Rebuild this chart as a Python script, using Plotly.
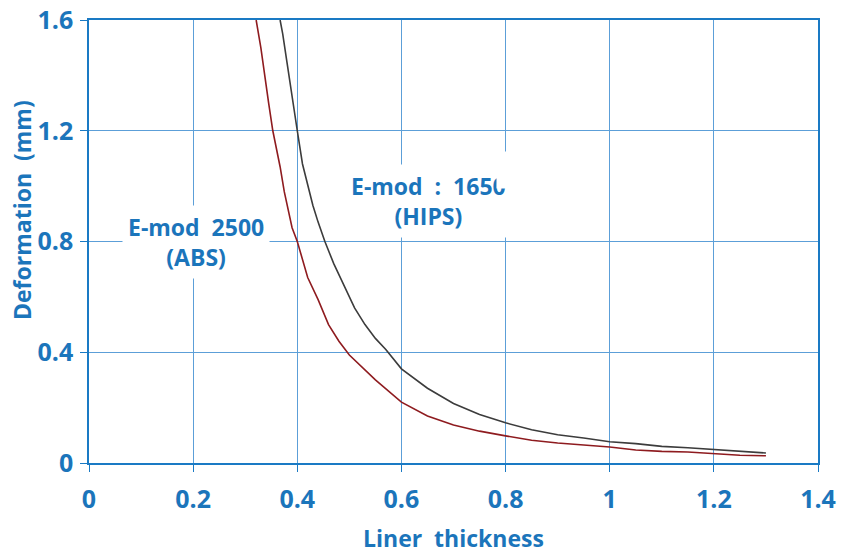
import plotly.graph_objects as go

# Liner thickness vs. deformation for two liner materials
abs_thickness = [0.321, 0.33, 0.345, 0.353, 0.367, 0.375, 0.39, 0.40, 0.42, 0.44,
                 0.46, 0.48, 0.50, 0.55, 0.60, 0.65, 0.70, 0.75, 0.80, 0.85,
                 0.90, 0.95, 1.00, 1.05, 1.10, 1.15, 1.20, 1.25, 1.30]
abs_deformation = [1.60, 1.50, 1.30, 1.20, 1.07, 0.98, 0.85, 0.80, 0.67, 0.59,
                   0.50, 0.44, 0.39, 0.30, 0.22, 0.17, 0.137, 0.115, 0.098, 0.082,
                   0.072, 0.064, 0.058, 0.047, 0.042, 0.040, 0.034, 0.028, 0.026]

hips_thickness = [0.367, 0.372, 0.38, 0.39, 0.40, 0.41, 0.42, 0.43, 0.44, 0.453,
                  0.47, 0.49, 0.51, 0.53, 0.55, 0.57, 0.60, 0.65, 0.70, 0.75,
                  0.80, 0.85, 0.90, 0.95, 1.00, 1.05, 1.10, 1.15, 1.20, 1.25, 1.30]
hips_deformation = [1.60, 1.55, 1.45, 1.32, 1.20, 1.08, 1.00, 0.93, 0.87, 0.80,
                    0.72, 0.64, 0.56, 0.50, 0.45, 0.41, 0.34, 0.27, 0.215, 0.175,
                    0.145, 0.12, 0.102, 0.09, 0.077, 0.07, 0.06, 0.055, 0.048, 0.042, 0.036]

x_ticks = [0, 0.2, 0.4, 0.6, 0.8, 1.0, 1.2, 1.4]
x_tick_text = ["0", "0.2", "0.4", "0.6", "0.8", "1", "1.2", "1.4"]
y_ticks = [0, 0.4, 0.8, 1.2, 1.6]
y_tick_text = ["0", "0.4", "0.8", "1.2", "1.6"]

BLUE = "#1b75bb"
FRAME = "#1a7ac4"
GRID = "#5c9fd8"
FONT = "Open Sans"

W, H = 845, 553
L, R, T, B = 89, 27, 20, 90

fig = go.Figure()
fig.add_trace(go.Scatter(x=abs_thickness, y=abs_deformation, mode="lines",
                         line=dict(color="#8e1b1f", width=1.6), name="ABS"))
fig.add_trace(go.Scatter(x=hips_thickness, y=hips_deformation, mode="lines",
                         line=dict(color="#3c3c3c", width=1.6), name="HIPS"))

axis_common = dict(
    showgrid=True, gridcolor=GRID, gridwidth=1,
    showline=True, linecolor=FRAME, linewidth=1.5, mirror=True,
    ticks="outside", ticklen=7, tickcolor=FRAME, tickwidth=1,
    tickfont=dict(family=FONT, size=25, color=BLUE, weight="bold"),
    zeroline=False, automargin=False,
)

fig.update_xaxes(range=[0, 1.4], tickvals=x_ticks, ticktext=x_tick_text,
                 ticklabelstandoff=6, **axis_common)
fig.update_yaxes(range=[0, 1.6], tickvals=y_ticks, ticktext=y_tick_text,
                 ticklabelstandoff=2, **axis_common)

label_font = dict(family=FONT, size=23, color=BLUE, weight="bold")
plot_w = W - L - R
plot_h = H - T - B
fig.update_layout(
    width=W, height=H,
    margin=dict(l=L, r=R, t=T, b=B),
    plot_bgcolor="white", paper_bgcolor="white",
    showlegend=False,
    annotations=[
        dict(x=0.205, y=0.80, xref="x", yref="y", text="E-mod  2500<br>(ABS)",
             showarrow=False, font=label_font, bgcolor="white",
             xanchor="center", yanchor="middle", borderpad=5),
        dict(x=0.652, y=0.945, xref="x", yref="y", text="E-mod  :  1650<br>(HIPS)",
             showarrow=False, font=label_font, bgcolor="white",
             xanchor="center", yanchor="middle", borderpad=5),
        # blank patch trimming the end of the HIPS label
        dict(x=0.781, y=1.06, xref="x", yref="y", text=" ", width=36, height=34,
             showarrow=False, bgcolor="white", xanchor="left", yanchor="middle"),
        dict(x=0.5, y=-(538 - (H - B)) / plot_h, xref="paper", yref="paper",
             text="Liner  thickness", showarrow=False, font=label_font,
             xanchor="center", yanchor="middle"),
        dict(x=(22 - L) / plot_w, y=(H - B - 210) / plot_h, xref="paper", yref="paper",
             text="Deformation  (mm)", showarrow=False, font=label_font,
             textangle=-90, xanchor="center", yanchor="middle"),
    ],
)

fig.write_html("out.html")
